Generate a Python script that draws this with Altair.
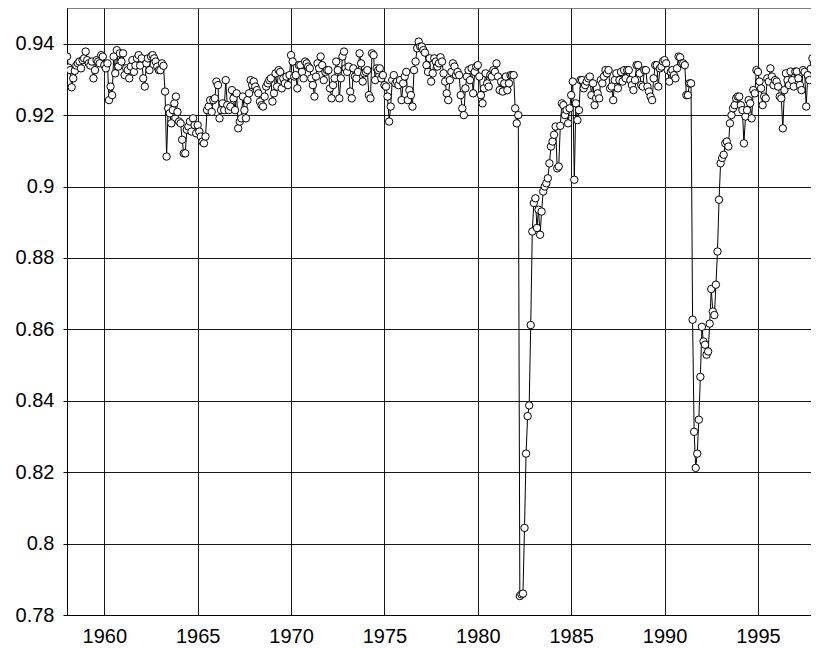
import altair as alt
import pandas as pd

# monthly values, one list per year (Jan..Dec)
y1958 = [0.9364, 0.9333, 0.9326, 0.9278, 0.9303, 0.9324, 0.9339, 0.9345, 0.935, 0.9331, 0.9354, 0.9359]
y1959 = [0.9378, 0.9354, 0.9345, 0.9339, 0.935, 0.9303, 0.9326, 0.9354, 0.935, 0.9345, 0.9368, 0.9364]
y1960 = [0.934, 0.9331, 0.9345, 0.9242, 0.928, 0.9256, 0.9364, 0.9317, 0.9382, 0.9336, 0.9373, 0.935]
y1961 = [0.9373, 0.9312, 0.9331, 0.9326, 0.9303, 0.9336, 0.9354, 0.9321, 0.9339, 0.9359, 0.9368, 0.9339]
y1962 = [0.9359, 0.9303, 0.928, 0.9345, 0.9359, 0.9326, 0.9364, 0.9368, 0.9359, 0.935, 0.9336, 0.9326]
y1963 = [0.9326, 0.9345, 0.9338, 0.9266, 0.9084, 0.9219, 0.9205, 0.9177, 0.9214, 0.9233, 0.9252, 0.9209]
y1964 = [0.9182, 0.9177, 0.9131, 0.9093, 0.9093, 0.9159, 0.9168, 0.9182, 0.9154, 0.9191, 0.9172, 0.9149]
y1965 = [0.9172, 0.9154, 0.914, 0.9126, 0.9121, 0.914, 0.9214, 0.9224, 0.9242, 0.9209, 0.9242, 0.9247]
y1966 = [0.9294, 0.9284, 0.9191, 0.9214, 0.9233, 0.9214, 0.9298, 0.9228, 0.9214, 0.9224, 0.927, 0.9247]
y1967 = [0.9214, 0.9261, 0.9163, 0.9182, 0.9191, 0.9252, 0.9214, 0.9191, 0.9242, 0.9261, 0.9298, 0.9284]
y1968 = [0.9294, 0.928, 0.927, 0.9261, 0.9238, 0.9228, 0.9224, 0.9252, 0.928, 0.9289, 0.9298, 0.9303]
y1969 = [0.9238, 0.9261, 0.9317, 0.928, 0.9326, 0.9321, 0.9275, 0.9303, 0.9289, 0.9308, 0.9284, 0.9312]
y1970 = [0.9368, 0.935, 0.9308, 0.9312, 0.9275, 0.934, 0.934, 0.9321, 0.9303, 0.935, 0.9345, 0.9336]
y1971 = [0.9331, 0.9303, 0.9284, 0.9252, 0.9308, 0.9345, 0.9331, 0.9364, 0.934, 0.9298, 0.9321, 0.9326]
y1972 = [0.9326, 0.9275, 0.9247, 0.9284, 0.9303, 0.935, 0.9326, 0.9247, 0.9303, 0.9364, 0.9378, 0.9331]
y1973 = [0.9321, 0.9336, 0.9266, 0.9247, 0.9331, 0.9308, 0.9303, 0.9321, 0.9373, 0.9345, 0.9294, 0.9317]
y1974 = [0.9321, 0.9326, 0.9256, 0.9247, 0.9373, 0.9368, 0.9298, 0.9331, 0.9326, 0.9331, 0.9303, 0.9312]
y1975 = [0.9284, 0.928, 0.9252, 0.9182, 0.9224, 0.9298, 0.9312, 0.9289, 0.9294, 0.9284, 0.9298, 0.9242]
y1976 = [0.9289, 0.9308, 0.9321, 0.9242, 0.927, 0.9256, 0.9224, 0.9326, 0.935, 0.9387, 0.9406, 0.9392]
y1977 = [0.9392, 0.9382, 0.9375, 0.934, 0.9321, 0.9359, 0.9294, 0.9317, 0.9359, 0.935, 0.9336, 0.9345]
y1978 = [0.9362, 0.935, 0.9317, 0.9294, 0.9261, 0.9242, 0.9298, 0.9321, 0.9345, 0.9336, 0.9312, 0.9321]
y1979 = [0.9312, 0.9256, 0.9219, 0.92, 0.9275, 0.9308, 0.9326, 0.9298, 0.9331, 0.9261, 0.9321, 0.9336]
y1980 = [0.934, 0.9308, 0.9256, 0.9233, 0.9275, 0.9317, 0.9289, 0.928, 0.9312, 0.9308, 0.9326, 0.9321]
y1981 = [0.9345, 0.9308, 0.927, 0.9294, 0.9266, 0.9289, 0.9308, 0.927, 0.9289, 0.9312, 0.9312, 0.9312]
y1982 = [0.9219, 0.9177, 0.920, 0.7853, 0.7858, 0.786, 0.8044, 0.8252, 0.8357, 0.8387, 0.8612, 0.8874]
y1983 = [0.8954, 0.8967, 0.8884, 0.8935, 0.8865, 0.893, 0.8986, 0.9, 0.9009, 0.9023, 0.9065, 0.9112]
y1984 = [0.9126, 0.9145, 0.9168, 0.9051, 0.9056, 0.917, 0.9233, 0.9228, 0.92, 0.9214, 0.9177, 0.9219]
y1985 = [0.9256, 0.9294, 0.9019, 0.9233, 0.9186, 0.9214, 0.9298, 0.9298, 0.9275, 0.9284, 0.9294, 0.9303]
y1986 = [0.9308, 0.9256, 0.9289, 0.9228, 0.9247, 0.9261, 0.9247, 0.9298, 0.9289, 0.9308, 0.9326, 0.9317]
y1987 = [0.9326, 0.9275, 0.928, 0.9242, 0.9298, 0.9317, 0.9275, 0.9298, 0.9321, 0.9294, 0.9326, 0.9303]
y1988 = [0.9326, 0.9326, 0.9298, 0.9284, 0.927, 0.9298, 0.934, 0.934, 0.9317, 0.9284, 0.928, 0.9326]
y1989 = [0.9326, 0.928, 0.9266, 0.9252, 0.9242, 0.9303, 0.934, 0.934, 0.928, 0.9331, 0.9336, 0.935]
y1990 = [0.9354, 0.9345, 0.9326, 0.9294, 0.9321, 0.9326, 0.9312, 0.9303, 0.9331, 0.9364, 0.9362, 0.9345]
y1991 = [0.9345, 0.934, 0.9256, 0.9256, 0.9289, 0.9289, 0.8627, 0.8313, 0.8212, 0.8252, 0.8347, 0.8467]
y1992 = [0.8607, 0.8566, 0.8557, 0.8529, 0.8538, 0.8616, 0.8713, 0.865, 0.864, 0.8725, 0.8818, 0.8963]
y1993 = [0.9065, 0.908, 0.9089, 0.9121, 0.9126, 0.9112, 0.9177, 0.92, 0.9219, 0.9228, 0.9247, 0.9252]
y1994 = [0.9252, 0.9228, 0.9214, 0.9121, 0.9196, 0.9214, 0.9242, 0.9233, 0.9191, 0.927, 0.9261, 0.9326]
y1995 = [0.9321, 0.9294, 0.9275, 0.9228, 0.9252, 0.9247, 0.9303, 0.9294, 0.9331, 0.9308, 0.9284, 0.9298]
y1996 = [0.9294, 0.928, 0.9252, 0.9247, 0.9163, 0.927, 0.9317, 0.9298, 0.9284, 0.9322, 0.9298, 0.928]
y1997 = [0.9322, 0.9322, 0.9303, 0.9284, 0.927, 0.9326, 0.9321, 0.9224, 0.9312, 0.9298, 0.933, 0.9359]
y1998 = [0.9345, 0.9322, 0.9294, 0.931, 0.933]

years = list(range(1958, 1999))
series = [y1958, y1959, y1960, y1961, y1962, y1963, y1964, y1965, y1966, y1967,
          y1968, y1969, y1970, y1971, y1972, y1973, y1974, y1975, y1976, y1977,
          y1978, y1979, y1980, y1981, y1982, y1983, y1984, y1985, y1986, y1987,
          y1988, y1989, y1990, y1991, y1992, y1993, y1994, y1995, y1996, y1997,
          y1998]

x_ticks = [1960, 1965, 1970, 1975, 1980, 1985, 1990, 1995]
y_ticks = [0.78, 0.80, 0.82, 0.84, 0.86, 0.88, 0.90, 0.92, 0.94]
y_top = 0.95

rows = []
for yr, vals in zip(years, series):
    for m, v in enumerate(vals):
        rows.append({"t": yr + m / 12.0, "v": v})
df = pd.DataFrame(rows)

FONT = "Liberation Sans"

# plot area 744 px wide at 18.674 px/year starting at 1958
x_scale = alt.Scale(domain=[1958, 1958 + 744 / 18.674], nice=False, zero=False)
y_scale = alt.Scale(domain=[0.78, y_top], nice=False, zero=False)

x = alt.X("t:Q", scale=x_scale,
          axis=alt.Axis(values=x_ticks, format="d", title=None, grid=True,
                        ticks=False, tickSize=0, labelPadding=11,
                        labelFontSize=20, labelFont=FONT, labelColor="black",
                        domainColor="black", gridColor="black", gridWidth=1,
                        gridOpacity=0.9, labelFlush=False))
y = alt.Y("v:Q", scale=y_scale,
          axis=alt.Axis(values=y_ticks, format="~g", title=None, grid=True,
                        tickSize=4, tickColor="black", labelPadding=9,
                        labelFontSize=20, labelFont=FONT, labelColor="black",
                        domainColor="black", gridColor="black", gridWidth=1,
                        gridOpacity=0.9, labelFlush=False))

base = alt.Chart(df)
line = base.mark_line(color="black", strokeWidth=1, clip=True).encode(x=x, y=y)
pts = base.mark_point(shape="circle", filled=True, fill="white", stroke="black",
                      strokeWidth=1, size=55, opacity=1, clip=True).encode(x=x, y=y)
top = alt.Chart(pd.DataFrame({"v": [y_top]})).mark_rule(
    color="black", strokeWidth=1).encode(y=y)

chart = (line + pts + top).properties(
    width=744, height=607,
    autosize=alt.AutoSizeParams(type="none"),
    padding={"left": 59, "top": 0, "right": 0, "bottom": 37},
).configure_view(stroke="transparent")

chart.save("out.html", embed_options={"renderer": "svg", "actions": False})
